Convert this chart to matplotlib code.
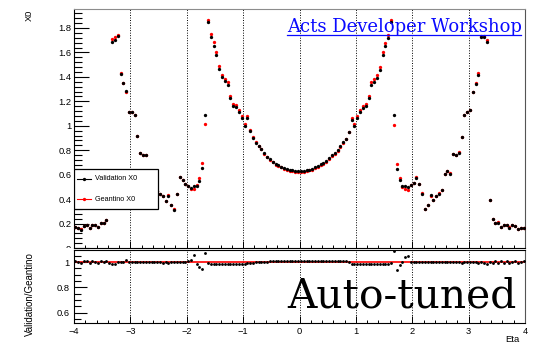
import matplotlib
matplotlib.use("Agg")
import matplotlib.pyplot as plt
import matplotlib.ticker as mticker
from matplotlib.lines import Line2D
from matplotlib.patches import Rectangle
import numpy as np

# material budget per eta bin (160 bins, -4 .. 4)
eta_edges = np.linspace(-4, 4, 161)

x0_validation = [
    0.173, 0.160, 0.151, 0.178, 0.190, 0.165, 0.190, 0.190, 0.173, 0.206,
    0.206, 0.233, 0.390, 1.688, 1.702, 1.737, 1.424, 1.348, 1.288, 1.114,
    1.114, 1.090, 0.913, 0.777, 0.761, 0.763, 0.610, 0.630, 0.600, 0.470,
    0.445, 0.423, 0.388, 0.429, 0.352, 0.314, 0.445, 0.581, 0.554, 0.527,
    0.510, 0.491, 0.510, 0.510, 0.551, 0.654, 1.090, 1.851, 1.724, 1.656,
    1.580, 1.463, 1.397, 1.362, 1.335, 1.228, 1.160, 1.152, 1.115, 1.064,
    0.998, 1.064, 0.955, 0.902, 0.861, 0.834, 0.807, 0.774, 0.747, 0.725,
    0.706, 0.686, 0.676, 0.665, 0.653, 0.646, 0.637, 0.634, 0.630, 0.628,
    0.628, 0.630, 0.635, 0.641, 0.649, 0.662, 0.671, 0.684, 0.698, 0.712,
    0.733, 0.758, 0.777, 0.802, 0.831, 0.864, 0.894, 0.951, 1.051, 1.002,
    1.065, 1.112, 1.147, 1.161, 1.229, 1.337, 1.359, 1.392, 1.460, 1.582,
    1.651, 1.718, 1.849, 1.092, 0.643, 0.560, 0.504, 0.504, 0.495, 0.513,
    0.532, 0.576, 0.524, 0.445, 0.318, 0.354, 0.430, 0.389, 0.425, 0.445,
    0.472, 0.604, 0.628, 0.609, 0.765, 0.762, 0.781, 0.905, 1.087, 1.114,
    1.125, 1.278, 1.345, 1.415, 1.729, 1.722, 1.683, 0.393, 0.235, 0.208,
    0.208, 0.173, 0.189, 0.189, 0.167, 0.189, 0.178, 0.153, 0.162, 0.167,
]

x0_geantino = [
    0.172, 0.160, 0.152, 0.177, 0.189, 0.166, 0.189, 0.190, 0.174, 0.205,
    0.206, 0.232, 0.392, 1.708, 1.729, 1.740, 1.428, 1.350, 1.272, 1.116,
    1.114, 1.092, 0.913, 0.778, 0.762, 0.764, 0.611, 0.628, 0.602, 0.470,
    0.444, 0.425, 0.387, 0.431, 0.352, 0.315, 0.444, 0.582, 0.553, 0.526,
    0.505, 0.484, 0.482, 0.518, 0.572, 0.694, 1.015, 1.866, 1.750, 1.682,
    1.604, 1.486, 1.418, 1.383, 1.355, 1.247, 1.177, 1.169, 1.132, 1.080,
    1.013, 1.076, 0.962, 0.906, 0.863, 0.834, 0.806, 0.772, 0.744, 0.721,
    0.701, 0.681, 0.670, 0.659, 0.647, 0.640, 0.631, 0.627, 0.623, 0.621,
    0.621, 0.623, 0.628, 0.634, 0.642, 0.655, 0.664, 0.677, 0.691, 0.705,
    0.726, 0.751, 0.770, 0.795, 0.824, 0.858, 0.889, 0.950, 1.064, 1.017,
    1.081, 1.129, 1.164, 1.178, 1.247, 1.357, 1.379, 1.413, 1.482, 1.606,
    1.676, 1.744, 1.862, 1.005, 0.684, 0.574, 0.503, 0.484, 0.473, 0.512,
    0.531, 0.577, 0.523, 0.446, 0.318, 0.355, 0.429, 0.390, 0.424, 0.446,
    0.471, 0.606, 0.627, 0.611, 0.767, 0.761, 0.783, 0.910, 1.089, 1.113,
    1.127, 1.276, 1.347, 1.430, 1.732, 1.733, 1.705, 0.393, 0.236, 0.207,
    0.209, 0.172, 0.190, 0.188, 0.168, 0.189, 0.177, 0.154, 0.162, 0.166,
]

grid_eta = [-3, -2, -1, 0, 1, 2, 3]

eta = 0.5 * (eta_edges[:-1] + eta_edges[1:])
val = np.array(x0_validation)
gea = np.array(x0_geantino)
ratio = val / gea

plt.rcParams["font.family"] = ["Liberation Sans", "DejaVu Sans"]

W, H = 539, 344
fig = plt.figure(figsize=(W / 100, H / 100), dpi=100)


def fx(px):
    return px / W


def fy(py):
    return 1 - py / H


ax = fig.add_axes([fx(74), fy(248), fx(451), (248 - 9) / H])
axr = fig.add_axes([fx(74), fy(323), fx(451), (323 - 250) / H], zorder=2)

# the upper pad's "0" label is clipped by the lower pad
fig.add_artist(Rectangle((0, 0), fx(73), fy(247.5), transform=fig.transFigure,
                         facecolor="white", edgecolor="none", zorder=1))

MS = 2.4
ax.plot(eta, gea, "o", color="red", ms=MS, mew=0, zorder=3)
ax.plot(eta, val, "o", color="black", ms=MS, mew=0, zorder=4)
for g in grid_eta:
    ax.axvline(g, color="black", lw=0.7, ls=(0, (1, 1.6)), zorder=1)
    axr.axvline(g, color="black", lw=0.7, ls=(0, (1, 1.6)), zorder=1)

ax.set_xlim(-4, 4)
ax.set_ylim(0, 1.955)
ax.yaxis.set_major_locator(mticker.MultipleLocator(0.2))
ax.yaxis.set_minor_locator(mticker.MultipleLocator(0.04))
ax.yaxis.set_major_formatter(mticker.FormatStrFormatter("%g"))
ax.xaxis.set_major_locator(mticker.MultipleLocator(1))
ax.xaxis.set_minor_locator(mticker.MultipleLocator(0.2))
ax.tick_params(axis="x", which="both", direction="in", labelbottom=False)
ax.tick_params(axis="x", which="major", length=5, width=0.7)
ax.tick_params(axis="x", which="minor", length=2.5, width=0.7)
ax.tick_params(axis="y", which="major", direction="in", length=11, width=0.8,
               labelsize=6.7, pad=2)
ax.tick_params(axis="y", which="minor", direction="in", length=5.5, width=0.8)
ax.spines["top"].set_color("#8c8c8c")
ax.spines["right"].set_color("#555555")
for s in ax.spines.values():
    s.set_linewidth(0.8)

# legend box
ax.add_patch(Rectangle((0, 0.163), 0.186, 0.167, transform=ax.transAxes,
                       facecolor="white", edgecolor="black", lw=0.9, zorder=6))
for yy, col, lab in [(0.289, "black", "Validation X0"),
                     (0.205, "red", "Geantino X0")]:
    ax.add_line(Line2D([0.0067, 0.0377], [yy, yy], transform=ax.transAxes,
                       color=col, lw=0.8, zorder=7))
    ax.add_line(Line2D([0.022], [yy], transform=ax.transAxes, marker="o",
                       color=col, ms=MS, mew=0, zorder=7))
    ax.text(0.047, yy, lab, transform=ax.transAxes, fontsize=5.2,
            va="center", ha="left", color="black", zorder=7)

# ratio pad
axr.axhline(1, color="red", lw=1.2, zorder=2)
axr.plot(eta, ratio, "o", color="black", ms=MS * 0.85, mew=0, zorder=3)
axr.set_xlim(-4, 4)
axr.set_ylim(0.518, 1.095)
axr.yaxis.set_major_locator(mticker.MultipleLocator(0.2))
axr.yaxis.set_minor_locator(mticker.MultipleLocator(0.05))
axr.yaxis.set_major_formatter(mticker.FormatStrFormatter("%g"))
axr.xaxis.set_major_locator(mticker.MultipleLocator(1))
axr.xaxis.set_minor_locator(mticker.MultipleLocator(0.2))
axr.tick_params(axis="x", which="major", direction="in", length=5, width=0.7,
                labelsize=6.7, pad=3)
axr.tick_params(axis="x", which="minor", direction="in", length=2.5, width=0.7)
axr.tick_params(axis="y", which="major", direction="in", length=9.5, width=0.8,
                labelsize=6.7, pad=3)
axr.tick_params(axis="y", which="minor", direction="in", length=5, width=0.8)
axr.spines["right"].set_color("#555555")
for s in axr.spines.values():
    s.set_linewidth(0.8)

fig.text(fx(29), fy(10), "X0", rotation=90, ha="center", va="top", fontsize=6.7)
fig.text(fx(30), fy(252), "Validation/Geantino", rotation=90, ha="center",
         va="top", fontsize=7)
fig.text(fx(520), fy(343.5), "Eta", ha="right", va="bottom", fontsize=6.8)

# banner texts, scaled to their widths on the canvas
fig.canvas.draw()
renderer = fig.canvas.get_renderer()


def fitted_text(x0, x1, ybase, s, color, family):
    t = fig.text(fx(x0), fy(ybase), s, ha="left", va="baseline", color=color,
                 fontsize=20, family=family, zorder=5)
    w = t.get_window_extent(renderer).width
    t.set_fontsize(20 * (x1 - x0) / w)
    return t


fitted_text(287, 521, 32, "Acts Developer Workshop", "#0a0aff", "DejaVu Serif")
fig.add_artist(Line2D([fx(287), fx(521)], [fy(34.5), fy(34.5)],
                      transform=fig.transFigure, color="#0a0aff", lw=0.9))
fitted_text(287, 516, 308, "Auto-tuned", "black", "DejaVu Serif")

fig.savefig("out.png", dpi=100)
